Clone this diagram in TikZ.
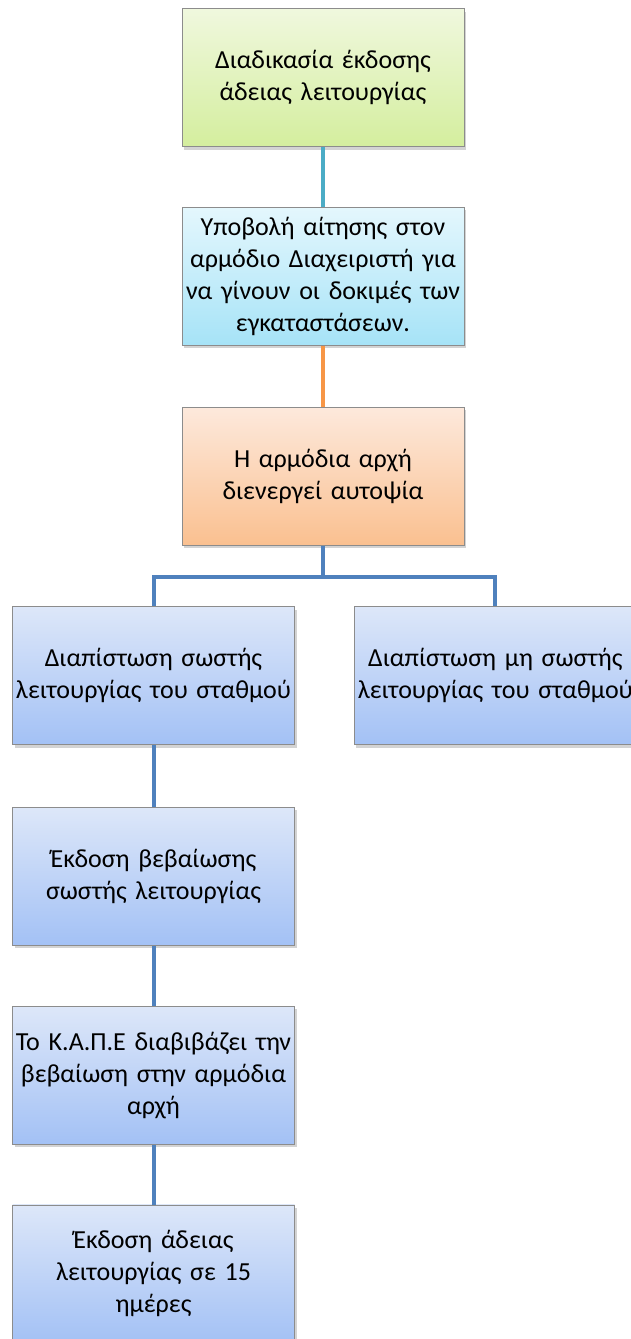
\documentclass[tikz,border=0pt]{standalone}
\usepackage{fontspec}
\setmainfont{Carlito}
\usetikzlibrary{positioning,shadows}

\definecolor{greentop}{HTML}{F0F8DE}
\definecolor{greenbot}{HTML}{D4EE9E}
\definecolor{cyantop}{HTML}{E4F7FD}
\definecolor{cyanbot}{HTML}{A6E3F7}
\definecolor{orangetop}{HTML}{FDE9DC}
\definecolor{orangebot}{HTML}{FAC090}
\definecolor{bluetop}{HTML}{DDE7F9}
\definecolor{bluebot}{HTML}{A3C1F5}
\definecolor{tealline}{HTML}{4BACC6}
\definecolor{orangeline}{HTML}{F79646}
\definecolor{blueline}{HTML}{4F81BD}

\begin{document}
\begin{tikzpicture}[
  x=0.5pt,y=-0.5pt,
  font=\fontsize{13}{16}\selectfont,
  step box/.style={draw=black!45,line width=0.4pt,inner xsep=0pt,inner ysep=2pt,
              text width=141pt,align=center,minimum height=69pt,
              drop shadow={shadow xshift=1pt,shadow yshift=-1.5pt,opacity=0.35}},
  greenbox/.style={step box,top color=greentop,bottom color=greenbot},
  cyanbox/.style={step box,top color=cyantop,bottom color=cyanbot},
  orangebox/.style={step box,top color=orangetop,bottom color=orangebot},
  bluebox/.style={step box,top color=bluetop,bottom color=bluebot},
  link/.style={line width=2pt}
]
\useasboundingbox (0,0) rectangle (631,1339);

\node[greenbox] (proc) at (323,77.5) {Διαδικασία έκδοσης\\άδειας λειτουργίας};
\node[cyanbox,below=30pt of proc] (appl) {Υποβολή αίτησης στον\\αρμόδιο Διαχειριστή για\\να γίνουν οι δοκιμές των\\εγκαταστάσεων.};
\node[orangebox,below=30.5pt of appl] (insp) {Η αρμόδια αρχή\\διενεργεί αυτοψία};

\node[bluebox] (okrun) at (153.5,675.5) {Διαπίστωση σωστής\\λειτουργίας του σταθμού};
\node[bluebox,right=29.5pt of okrun] (badrun) {Διαπίστωση μη σωστής\\λειτουργίας του σταθμού};
\node[bluebox,below=31pt of okrun] (cert) {Έκδοση βεβαίωσης\\σωστής λειτουργίας};
\node[bluebox,below=30pt of cert] (kape) {Το Κ.Α.Π.Ε διαβιβάζει την\\βεβαίωση στην αρμόδια\\αρχή};
\node[bluebox,below=30pt of kape] (permit) {Έκδοση άδειας\\λειτουργίας σε 15\\ημέρες};

\coordinate (fork) at (323,577);

\draw[link,tealline] (proc) -- (appl);
\draw[link,orangeline] (appl) -- (insp);
\draw[link,blueline] (insp) -- (fork);
\draw[link,blueline] (fork) -| (okrun.north);
\draw[link,blueline] (fork) -| (badrun.north);
\draw[link,blueline] (okrun) -- (cert);
\draw[link,blueline] (cert) -- (kape);
\draw[link,blueline] (kape) -- (permit);
\end{tikzpicture}
\end{document}
